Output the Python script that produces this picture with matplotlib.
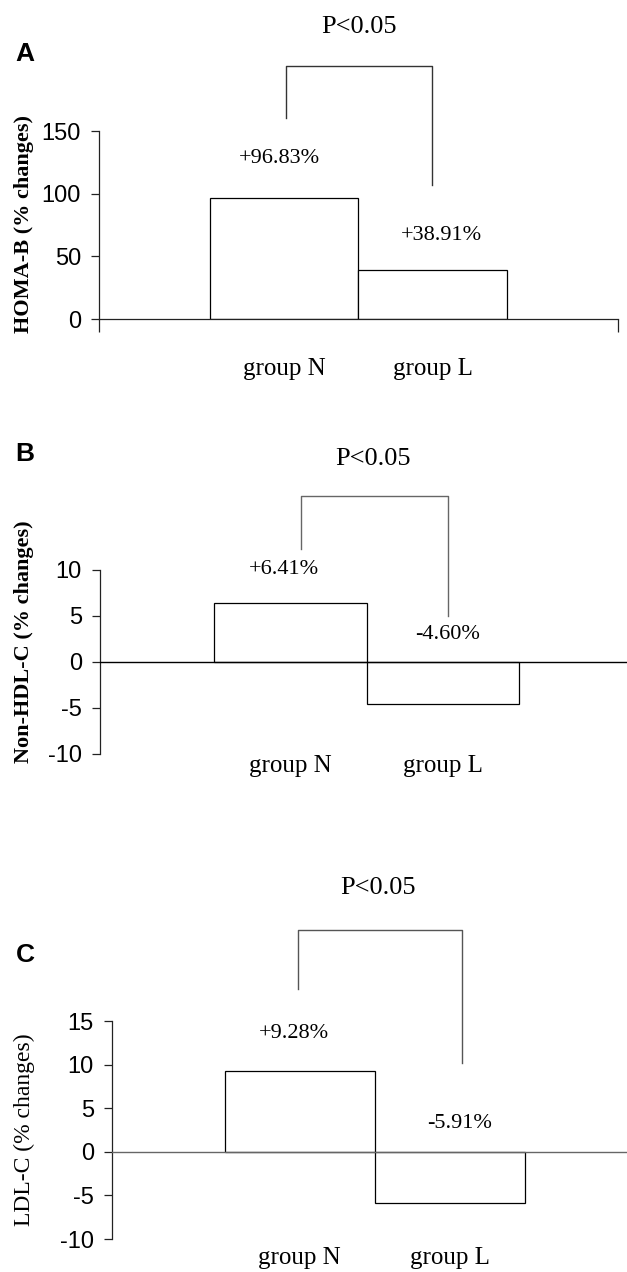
import matplotlib
matplotlib.use("Agg")
import matplotlib.pyplot as plt
from matplotlib.ticker import FixedLocator

# ---------------- data ----------------
categories = ["group N", "group L"]
homa_b = [96.83, 38.91]
non_hdl = [6.41, -4.60]
ldl = [9.28, -5.91]
labels_a = ["+96.83%", "+38.91%"]
labels_b = ["+6.41%", "-4.60%"]
labels_c = ["+9.28%", "-5.91%"]
p_text = "P<0.05"
yticks_a = [0, 50, 100, 150]
yticks_b = [-10, -5, 0, 5, 10]
yticks_c = [-10, -5, 0, 5, 10, 15]

W, H = 627, 1272
fig = plt.figure(figsize=(W / 100, H / 100), dpi=100)

SERIF = ["Liberation Serif", "DejaVu Serif"]
SANS = ["Liberation Sans", "DejaVu Sans"]


def frac(left, top, right, bottom):
    return [left / W, 1 - bottom / H, (right - left) / W, (bottom - top) / H]


def panel(rect, values, ylim, yticks, xlim, pct_labels, pct_pos, bracket,
          bracket_color, p_pos, zero_line, xlabel_pad, xline_color):
    ax = fig.add_axes(rect)
    x = list(range(len(values)))
    ax.bar(x, values, width=1.0, color="white", edgecolor="black",
           linewidth=0.9, zorder=2)
    ax.set_xlim(*xlim)
    ax.set_ylim(*ylim)
    for s in ["top", "right"]:
        ax.spines[s].set_visible(False)
    ax.spines["left"].set_linewidth(0.9)
    ax.spines["left"].set_color("#222222")
    if zero_line:
        ax.spines["bottom"].set_visible(False)
        ax.axhline(0, color=xline_color, linewidth=1.0, zorder=3)
        ax.tick_params(axis="x", which="minor", length=0)
    else:
        ax.spines["bottom"].set_linewidth(0.9)
        ax.spines["bottom"].set_color("#222222")
        ax.xaxis.set_minor_locator(FixedLocator(list(xlim)))
        ax.tick_params(axis="x", which="minor", length=9, width=0.9,
                       direction="out", color="#222222")
    ax.set_xticks(x)
    ax.set_xticklabels(categories, fontsize=18, family=SERIF)
    ax.tick_params(axis="x", which="major", length=0, pad=xlabel_pad)
    ax.set_yticks(yticks)
    ax.set_yticklabels([str(t) for t in yticks], fontsize=17, family=SANS)
    ax.tick_params(axis="y", length=6, width=0.9, direction="out",
                   color="#222222", pad=7)
    for lab, (px, py) in zip(pct_labels, pct_pos):
        ax.text(px, py, lab, ha="center", va="center", fontsize=16,
                family=SERIF, clip_on=False)
    bx0, bx1, btop, bl, br = bracket
    ax.plot([bx0, bx0, bx1, bx1], [bl, btop, btop, br], color=bracket_color,
            linewidth=1.0, clip_on=False)
    ax.text(p_pos[0], p_pos[1], p_text, ha="center", va="center",
            fontsize=19, family=SERIF, clip_on=False)
    return ax


# Panel A
panel(frac(99, 131, 618, 319), homa_b, (0, 150), yticks_a, (-1.242, 2.242),
      labels_a, [(-0.03, 127.7), (1.06, 67)],
      (0.013, 0.993, 202, 160, 107), "#333333", (0.50, 233),
      zero_line=False, xlabel_pad=28, xline_color="black")

# Panel B
panel(frac(100, 570, 627, 754), non_hdl, (-10, 10), yticks_b, (-1.249, 2.207),
      labels_b, [(-0.04, 10.1), (1.03, 2.96)],
      (0.07, 1.03, 18.0, 12.3, 5.05), "#666666", (0.54, 22.1),
      zero_line=True, xlabel_pad=1, xline_color="black")

# Panel C
panel(frac(112, 1021, 627, 1239), ldl, (-10, 15), yticks_c, (-1.25, 2.183),
      labels_c, [(-0.04, 13.6), (1.07, 3.3)],
      (-0.01, 1.08, 25.4, 18.7, 10.2), "#555555", (0.52, 30.3),
      zero_line=True, xlabel_pad=6, xline_color="#666666")

# y labels
fig.text(24 / W, 1 - 224 / H, "HOMA-B (% changes)", rotation=90, ha="center",
         va="center", fontsize=16, fontweight="bold", family=SERIF)
fig.text(24 / W, 1 - 642 / H, "Non-HDL-C (% changes)", rotation=90,
         ha="center", va="center", fontsize=16, fontweight="bold", family=SERIF)
fig.text(24 / W, 1 - 1130 / H, "LDL-C (% changes)", rotation=90, ha="center",
         va="center", fontsize=17, family=SERIF)

# panel letters
for letter, yc in [("A", 54), ("B", 454), ("C", 955)]:
    fig.text(25 / W, 1 - yc / H, letter, ha="center", va="center",
             fontsize=19, fontweight="bold", family=SANS)

fig.savefig("out.png", dpi=100, facecolor="white")
